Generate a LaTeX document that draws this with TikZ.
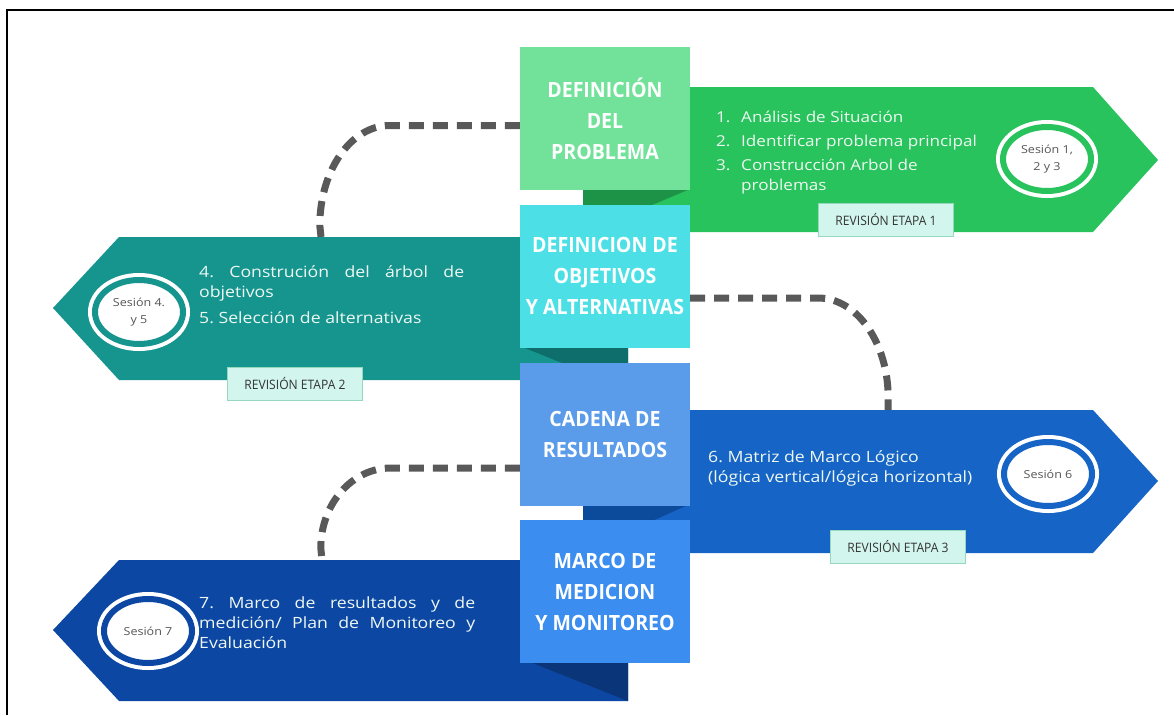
\documentclass[tikz,border=0pt]{standalone}
\usepackage{fontspec}
\setmainfont{Open Sans}[FakeStretch=1.14]
\newfontfamily\titlefont{Open Sans}[FakeStretch=0.93]
\usetikzlibrary{shapes.geometric}

\definecolor{boxA}{HTML}{72E29A}
\definecolor{arrA}{HTML}{28C35C}
\definecolor{foldA}{HTML}{1D9347}
\definecolor{boxB}{HTML}{4CE0E6}
\definecolor{arrB}{HTML}{16958F}
\definecolor{foldB}{HTML}{0E6E6B}
\definecolor{boxC}{HTML}{5A9CEA}
\definecolor{arrC}{HTML}{1664C6}
\definecolor{foldC}{HTML}{0C4A9C}
\definecolor{boxD}{HTML}{3C8DF0}
\definecolor{arrD}{HTML}{0D47A4}
\definecolor{foldD}{HTML}{0A3579}
\definecolor{dashgray}{HTML}{595959}
\definecolor{revfill}{HTML}{D2F5EE}
\definecolor{revline}{HTML}{95D8BE}
\definecolor{sestxt}{HTML}{555555}
\definecolor{listtxt}{HTML}{EEF8F2}

\newcommand{\itm}[1]{\makebox[25pt][l]{#1}}
\frenchspacing

\begin{document}
\begin{tikzpicture}[x=1pt,y=-1pt]

		\tikzset{stagebox/.style = {minimum width=170pt, minimum height=143pt, inner sep=0pt, text=white, align=center, font=\titlefont\bfseries\fontsize{21}{31}\selectfont}}
		\tikzset{revbox/.style = {draw=revline, fill=revfill, minimum width=135pt, minimum height=33pt, inner sep=0pt, text=black!80, font=\titlefont\fontsize{13}{14}\selectfont}}
		\tikzset{sesring/.style = {ellipse, fill=white, draw=white, double=#1, double distance=6pt, line width=4pt, minimum width=88pt, minimum height=64pt, inner sep=0pt, text=sestxt, align=center, font=\fontsize{11}{17}\selectfont}}
		\tikzset{itemtext/.style = {anchor=north west, inner sep=0pt, text=listtxt, align=left, font=\fontsize{15.5}{20}\selectfont}}
		\tikzset{linkline/.style = {draw=dashgray, line width=7pt, dash pattern=on 15pt off 9pt}}

		\useasboundingbox (0,0) rectangle (1174,715);
		\draw[line width=2pt] (7,715) -- (7,10) -- (1174,10);

		\coordinate (topB) at (321,237);
		\coordinate (topC) at (888,410);
		\coordinate (topD) at (322,560);

		% arrows
		\fill[arrA] (583,87) -- (1093,87) -- (1158,160) -- (1093,232) -- (583,232) -- cycle;
		\fill[arrB] (628,237) -- (119,237) -- (53,308) -- (119,380) -- (628,380) -- cycle;
		\fill[arrC] (583,410) -- (1093,410) -- (1158,481) -- (1093,553) -- (583,553) -- cycle;
		\fill[arrD] (628,560) -- (119,560) -- (53,630) -- (119,701) -- (628,701) -- cycle;

		\fill[foldA] (583,189) -- (690,189) -- (652,205) -- (583,205) -- cycle;
		\fill[foldB] (520,346) -- (628,346) -- (628,363) -- (562,363) -- cycle;
		\fill[foldC] (583,504) -- (690,504) -- (652,521) -- (583,521) -- cycle;
		\fill[foldD] (530,662) -- (628,662) -- (628,701) -- cycle;

		\node[stagebox, fill=boxA] (defprob) at (605,118.5) {DEFINICIÓN\\DEL\\PROBLEMA};
		\node[stagebox, fill=boxB] (objalt) at (605,276) {DEFINICION DE\\OBJETIVOS\\Y ALTERNATIVAS};
		\node[stagebox, fill=boxC] (cadres) at (605,434) {CADENA DE\\RESULTADOS};
		\node[stagebox, fill=boxD] (medmon) at (605,591.5) {MARCO DE\\MEDICION\\Y MONITOREO};

		\draw[linkline] ([yshift=-7pt]defprob.west) -- ++(-130,0) arc[start angle=90, end angle=180, x radius=70pt, y radius=100pt] -- (topB);
		\draw[linkline] ([yshift=-22pt]objalt.east) -- ++(128,0) arc[start angle=90, end angle=0, x radius=70pt, y radius=100pt] -- (topC);
		\draw[linkline] ([yshift=-34pt]cadres.west) -- ++(-129,0) arc[start angle=90, end angle=180, x radius=70pt, y radius=80pt] -- (topD);

		\node[itemtext, font=\fontsize{15}{20}\selectfont] (lstA) at (716,111) {\itm{1.}Análisis de Situación\\[4pt]\itm{2.}Identificar problema principal\\[4pt]\itm{3.}Construcción Arbol de\\\hspace*{25pt}problemas};
		\node[itemtext] (lstB) at (199,265) {\makebox[265pt][s]{4. Construción del árbol de}\\objetivos\\[6pt]5. Selección de alternativas};
		\node[itemtext] (lstC) at (708,450) {6. Matriz de Marco Lógico\\(lógica vertical/lógica horizontal)};
		\node[itemtext] (lstD) at (199,597) {\makebox[276pt][s]{7. Marco de resultados y de}\\\makebox[276pt][s]{medición/ Plan de Monitoreo y}\\Evaluación};

		\node[sesring=arrA] (sesA) at (1047,159) {Sesión 1,\\2 y 3};
		\node[sesring=arrB] (sesB) at (139,312) {Sesión 4.\\y 5};
		\node[sesring=arrC] (sesC) at (1048,474) {Sesión 6};
		\node[sesring=arrD] (sesD) at (148,631) {Sesión 7};

		\node[revbox] (revA) at (886,220) {REVISIÓN ETAPA 1};
		\node[revbox] (revB) at (295,384) {REVISIÓN ETAPA 2};
		\node[revbox] (revC) at (898,546.5) {REVISIÓN ETAPA 3};

\end{tikzpicture}
\end{document}
